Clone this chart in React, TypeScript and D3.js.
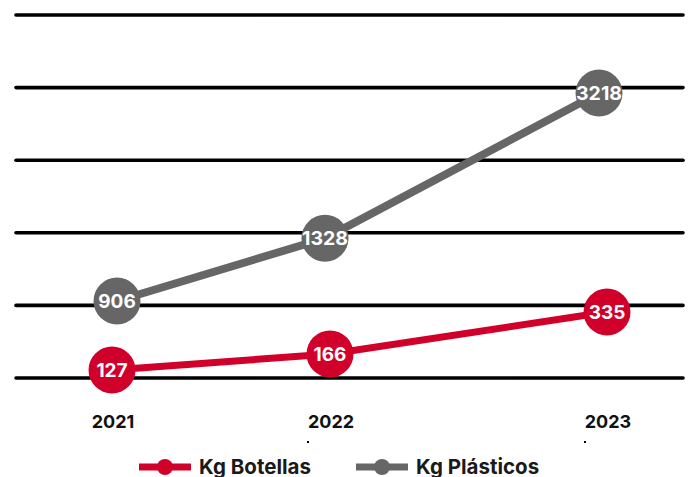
import React, { useRef, useEffect } from 'react';
import * as d3 from 'd3';

// data
const years = ['2021', '2022', '2023'];
const botellas = [127, 166, 335];
const plasticos = [906, 1328, 3218];
const seriesNames = ['Kg Botellas', 'Kg Plásticos'];
const gridCount = 6;

const W = 692;
const H = 477;
const RED = '#d0002a';
const GREY = '#666666';
const FONT = 'Inter, "Noto Sans", sans-serif';

export default function App() {
  const svgRef = useRef<SVGSVGElement>(null);

  useEffect(() => {
    const svg = d3.select(svgRef.current);
    svg.selectAll('*').remove();

    // gridlines, evenly spaced
    const yGrid = d3.scaleLinear().domain([0, gridCount - 1]).range([378, 15]);
    svg
      .append('g')
      .selectAll('line')
      .data(d3.range(gridCount))
      .join('line')
      .attr('x1', 16)
      .attr('x2', 683)
      .attr('y1', (d) => yGrid(d))
      .attr('y2', (d) => yGrid(d))
      .attr('stroke', '#000')
      .attr('stroke-width', 3.6)
      .attr('stroke-linecap', 'round');

    // category positions are not evenly spaced in the original
    const xRed = d3.scaleOrdinal<string, number>().domain(years).range([112, 330, 607]);
    const xGrey = d3.scaleOrdinal<string, number>().domain(years).range([117, 325, 599]);

    // each series sits on its own (log-like) axis
    const yRed = d3.scaleLog().domain(d3.extent(botellas) as [number, number]).range([370, 312]);
    const yGrey = d3.scaleLog().domain(d3.extent(plasticos) as [number, number]).range([301, 93]);

    const drawSeries = (
      values: number[],
      x: d3.ScaleOrdinal<string, number>,
      y: d3.ScaleLogarithmic<number, number>,
      color: string,
      width: number
    ) => {
      const g = svg.append('g');
      const line = d3
        .line<number>()
        .x((_, i) => x(years[i]))
        .y((d) => y(d));
      g.append('path')
        .attr('d', line(values))
        .attr('fill', 'none')
        .attr('stroke', color)
        .attr('stroke-width', width);
      const pts = g
        .selectAll('g.pt')
        .data(values)
        .join('g')
        .attr('class', 'pt')
        .attr('transform', (d, i) => `translate(${x(years[i])},${y(d)})`);
      pts.append('circle').attr('r', 23.5).attr('fill', color);
      const t = pts
        .append('text')
        .text((d) => String(d))
        .attr('text-anchor', 'middle')
        .attr('dy', '0.36em')
        .attr('fill', '#fff')
        .style('font-family', FONT)
        .style('font-weight', 700)
        .style('font-size', '19px');
      // four-digit labels are squeezed to the circle width
      t.filter((d) => d >= 1000).attr('textLength', 46).attr('lengthAdjust', 'spacingAndGlyphs');
    };

    drawSeries(plasticos, xGrey, yGrey, GREY, 8);
    drawSeries(botellas, xRed, yRed, RED, 7);

    // year labels
    svg
      .append('g')
      .selectAll('text')
      .data(years)
      .join('text')
      .attr('x', (d) => xRed(d) + 1)
      .attr('y', 428)
      .attr('text-anchor', 'middle')
      .attr('fill', '#111')
      .style('font-family', FONT)
      .style('font-weight', 700)
      .style('font-size', '18px')
      .text((d) => d);

    // stray tick dots under 2022 and 2023
    svg
      .append('g')
      .selectAll('rect')
      .data(years.slice(1))
      .join('rect')
      .attr('x', (d) => xRed(d) - 23)
      .attr('y', 441)
      .attr('width', 2)
      .attr('height', 2)
      .attr('fill', '#000');

    // legend
    const legend = [
      { name: seriesNames[0], color: RED, x0: 139 },
      { name: seriesNames[1], color: GREY, x0: 356 },
    ];
    const lg = svg
      .append('g')
      .selectAll('g')
      .data(legend)
      .join('g')
      .attr('transform', (d) => `translate(${d.x0},467)`);
    lg.append('line')
      .attr('x1', 0)
      .attr('x2', 52)
      .attr('stroke', (d) => d.color)
      .attr('stroke-width', 7);
    lg.append('circle').attr('cx', 26).attr('r', 8).attr('fill', (d) => d.color);
    lg.append('text')
      .attr('x', 60)
      .attr('y', 6.5)
      .attr('fill', '#1a1a1a')
      .style('font-family', FONT)
      .style('font-weight', 700)
      .style('font-size', '20.5px')
      .text((d) => d.name);
  }, []);

  return (
    <div style={{ position: 'absolute', left: 0, top: 0, background: '#fff' }}>
      <svg ref={svgRef} width={W} height={H} style={{ display: 'block' }} />
    </div>
  );
}
